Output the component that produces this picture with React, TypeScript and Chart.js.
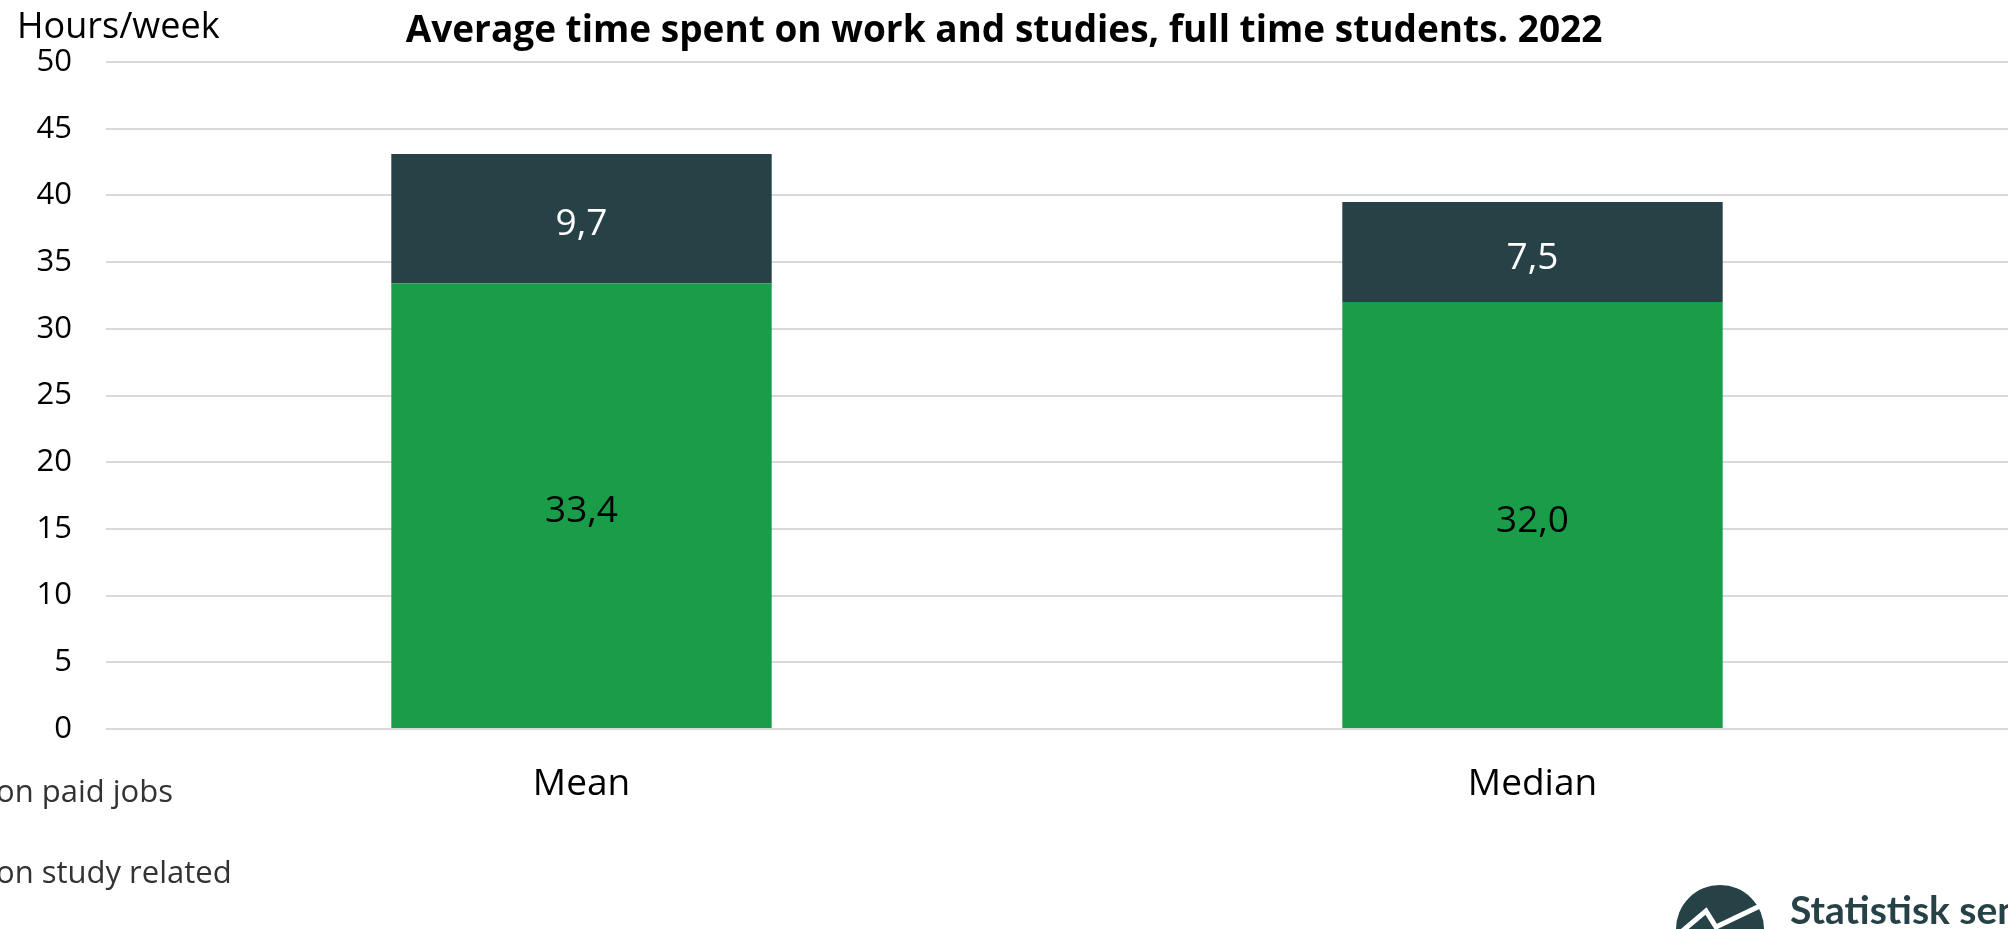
import React, { useEffect, useRef } from "react";
import { Chart, registerables } from "chart.js";

Chart.register(...registerables);

const categories = ["Mean", "Median"];
const paidJobs = [9.7, 7.5];
const studyRelated = [33.4, 32.0];
const seriesNames = ["Time spent on paid jobs", "Time spent on study related"];
const seriesColors = ["#274247", "#1a9d49"];
const labelColors = ["#ffffff", "#000000"];
const titleText = "Average time spent on work and studies, full time students. 2022";
const axisTitle = "Hours/week";
const logoText = "Statistisk sentralbyrå";
const yMin = 0;
const yMax = 50;
const yStep = 5;

const FONT = "'Open Sans', 'Noto Sans', sans-serif";

const valueLabels = {
  id: "valueLabels",
  afterDatasetsDraw(chart: any) {
    const ctx = chart.ctx;
    ctx.save();
    ctx.font = `37px ${FONT}`;
    ctx.textAlign = "center";
    ctx.textBaseline = "middle";
    chart.data.datasets.forEach((ds: any, di: number) => {
      const meta = chart.getDatasetMeta(di);
      meta.data.forEach((bar: any, i: number) => {
        const v = ds.data[i];
        const cy = (bar.y + bar.base) / 2 + 6;
        ctx.fillStyle = ds.labelColor;
        ctx.fillText(v.toFixed(1).replace(".", ","), bar.x, cy);
      });
    });
    ctx.restore();
  },
};

const decorations = {
  id: "decorations",
  afterDraw(chart: any) {
    const ctx = chart.ctx;
    ctx.save();
    // title
    ctx.fillStyle = "#000";
    ctx.font = `bold 37px ${FONT}`;
    ctx.textAlign = "center";
    ctx.textBaseline = "middle";
    ctx.fillText(titleText, chart.width / 2, 31);
    // axis title
    ctx.font = `36px ${FONT}`;
    ctx.textAlign = "left";
    ctx.fillText(axisTitle, 17, 28);
    // legend (left part falls outside the picture)
    ctx.font = `31px ${FONT}`;
    const legendY = [793, 874];
    const legendOrder = [0, 1];
    legendOrder.forEach((k, idx) => {
      const name = seriesNames[k];
      const cut = name.indexOf("on ");
      const pre = ctx.measureText(name.slice(0, cut)).width;
      const x0 = -pre - 4;
      ctx.fillStyle = seriesColors[k];
      ctx.fillRect(x0 - 36, legendY[idx] - 10, 22, 22);
      ctx.fillStyle = "#333";
      ctx.textBaseline = "middle";
      ctx.fillText(name, x0, legendY[idx]);
    });
    // logo
    const cx = 1720, cy = 929, r = 44;
    ctx.fillStyle = "#274247";
    ctx.beginPath();
    ctx.arc(cx, cy, r, 0, Math.PI * 2);
    ctx.fill();
    ctx.strokeStyle = "#fff";
    ctx.lineWidth = 5;
    ctx.beginPath();
    ctx.moveTo(cx - 40, cy + 4);
    ctx.lineTo(cx - 14, cy - 18);
    ctx.lineTo(cx - 4, cy - 2);
    ctx.lineTo(cx + 42, cy - 24);
    ctx.stroke();
    ctx.fillStyle = "#274247";
    ctx.font = `bold 39px 'Lato', 'Roboto', sans-serif`;
    ctx.textAlign = "left";
    ctx.textBaseline = "alphabetic";
    ctx.fillText(logoText, 1790, 924);
    ctx.restore();
  },
};

export default function App() {
  const ref = useRef<HTMLCanvasElement>(null);
  useEffect(() => {
    document.body.style.margin = "0";
    const chart = new Chart(ref.current!, {
      type: "bar",
      data: {
        labels: categories,
        datasets: [
          {
            label: seriesNames[1],
            data: studyRelated,
            backgroundColor: seriesColors[1],
            labelColor: labelColors[1],
            barPercentage: 0.4,
            categoryPercentage: 1,
          } as any,
          {
            label: seriesNames[0],
            data: paidJobs,
            backgroundColor: seriesColors[0],
            labelColor: labelColors[0],
            barPercentage: 0.4,
            categoryPercentage: 1,
          } as any,
        ],
      },
      options: {
        animation: false,
        responsive: false,
        devicePixelRatio: 1,
        layout: { padding: { left: 0, right: 0, top: 62, bottom: 100 } },
        plugins: { legend: { display: false }, tooltip: { enabled: false }, title: { display: false } },
        scales: {
          x: {
            stacked: true,
            grid: { display: false, drawTicks: false },
            border: { display: false },
            ticks: { color: "#000", font: { family: FONT, size: 37 }, padding: 33 },
            afterFit: (s: any) => { s.height = 100; },
          },
          y: {
            stacked: true,
            min: yMin,
            max: yMax,
            grid: { color: "#d9d9d9", lineWidth: 2, drawTicks: false },
            border: { display: false },
            ticks: { stepSize: yStep, color: "#000", font: { family: FONT, size: 31 }, padding: 34 },
            afterFit: (s: any) => { s.width = 106; },
          },
        },
      },
      plugins: [valueLabels, decorations],
    });
    return () => chart.destroy();
  }, []);
  return (
    <div style={{ position: "absolute", left: 0, top: 0, width: 2008, height: 929, background: "#fff" }}>
      <canvas ref={ref} width={2008} height={929} style={{ width: 2008, height: 929 }} />
    </div>
  );
}
